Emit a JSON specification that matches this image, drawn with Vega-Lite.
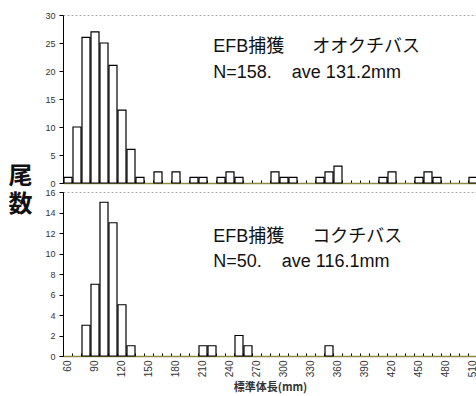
{
  "$schema": "https://vega.github.io/schema/vega-lite/v6.json",
  "padding": {"left": 7, "top": 10, "right": 0, "bottom": 0},
  "background": "white",
  "bounds": "flush",
  "spacing": 9,
  "config": {
    "view": {"stroke": "#aaaaaa", "strokeDash": [2, 2]},
    "font": "Liberation Sans, Noto Sans CJK JP",
    "axis": {"grid": false, "domainColor": "#000000", "tickColor": "#000000", "labelColor": "#333333", "labelFont": "Liberation Sans", "labelFontSize": 9, "labelOverlap": false}
  },
  "datasets": {
    "largemouth": [
      {"bin_start": 55, "bin_end": 65, "count": 1},
      {"bin_start": 65, "bin_end": 75, "count": 10},
      {"bin_start": 75, "bin_end": 85, "count": 26},
      {"bin_start": 85, "bin_end": 95, "count": 27},
      {"bin_start": 95, "bin_end": 105, "count": 25},
      {"bin_start": 105, "bin_end": 115, "count": 21},
      {"bin_start": 115, "bin_end": 125, "count": 13},
      {"bin_start": 125, "bin_end": 135, "count": 6},
      {"bin_start": 135, "bin_end": 145, "count": 1},
      {"bin_start": 155, "bin_end": 165, "count": 2},
      {"bin_start": 175, "bin_end": 185, "count": 2},
      {"bin_start": 195, "bin_end": 205, "count": 1},
      {"bin_start": 205, "bin_end": 215, "count": 1},
      {"bin_start": 225, "bin_end": 235, "count": 1},
      {"bin_start": 235, "bin_end": 245, "count": 2},
      {"bin_start": 245, "bin_end": 255, "count": 1},
      {"bin_start": 285, "bin_end": 295, "count": 2},
      {"bin_start": 295, "bin_end": 305, "count": 1},
      {"bin_start": 305, "bin_end": 315, "count": 1},
      {"bin_start": 335, "bin_end": 345, "count": 1},
      {"bin_start": 345, "bin_end": 355, "count": 2},
      {"bin_start": 355, "bin_end": 365, "count": 3},
      {"bin_start": 405, "bin_end": 415, "count": 1},
      {"bin_start": 415, "bin_end": 425, "count": 2},
      {"bin_start": 445, "bin_end": 455, "count": 1},
      {"bin_start": 455, "bin_end": 465, "count": 2},
      {"bin_start": 465, "bin_end": 475, "count": 1},
      {"bin_start": 505, "bin_end": 515, "count": 1}
    ],
    "smallmouth": [
      {"bin_start": 75, "bin_end": 85, "count": 3},
      {"bin_start": 85, "bin_end": 95, "count": 7},
      {"bin_start": 95, "bin_end": 105, "count": 15},
      {"bin_start": 105, "bin_end": 115, "count": 13},
      {"bin_start": 115, "bin_end": 125, "count": 5},
      {"bin_start": 125, "bin_end": 135, "count": 1},
      {"bin_start": 205, "bin_end": 215, "count": 1},
      {"bin_start": 215, "bin_end": 225, "count": 1},
      {"bin_start": 245, "bin_end": 255, "count": 2},
      {"bin_start": 255, "bin_end": 265, "count": 1},
      {"bin_start": 345, "bin_end": 355, "count": 1}
    ]
  },
  "vconcat": [
    {
      "width": 414,
      "height": 168,
      "layer": [
        {
          "data": {"name": "largemouth"},
          "mark": {"type": "bar", "fill": "white", "stroke": "black", "strokeWidth": 1.2},
          "encoding": {
            "x": {"field": "bin_start", "type": "quantitative", "bin": "binned",
              "scale": {"domain": [55, 515], "nice": false, "zero": false},
              "axis": {"values": [60,70,80,90,100,110,120,130,140,150,160,170,180,190,200,210,220,230,240,250,260,270,280,290,300,310,320,330,340,350,360,370,380,390,400,410,420,430,440,450,460,470,480,490,500,510],
                "labels": false, "title": null, "tickSize": -3, "tickOffset": -4.5, "domainColor": "#8a8a40", "domainWidth": 1.5}},
            "x2": {"field": "bin_end"},
            "y": {"field": "count", "type": "quantitative",
              "scale": {"domain": [0, 30], "nice": false},
              "axis": {"values": [0,5,10,15,20,25,30], "tickSize": 4, "labelPadding": 4,
                "title": "尾", "titleAngle": 0, "titleX": -43, "titleY": 168, "titleAlign": "center", "titleBaseline": "alphabetic",
                "titleFont": "Noto Sans CJK JP", "titleFontSize": 24, "titleFontWeight": "bold", "titleColor": "#111111"}}
          }
        },
        {
          "data": {"values": [{}]},
          "mark": {"type": "text", "text": ["EFB捕獲\u3000\u00a0\u00a0オオクチバス", "N=158.\u00a0\u00a0\u00a0\u00a0ave 131.2mm"],
            "align": "left", "baseline": "alphabetic", "fontSize": 18, "lineHeight": 26.5, "color": "#111111",
            "font": "Liberation Sans, Noto Sans CJK JP"},
          "encoding": {
            "x": {"datum": 222, "type": "quantitative",
              "axis": {"values": [60,70,80,90,100,110,120,130,140,150,160,170,180,190,200,210,220,230,240,250,260,270,280,290,300,310,320,330,340,350,360,370,380,390,400,410,420,430,440,450,460,470,480,490,500,510],
                "labels": false, "title": null, "tickSize": -3, "tickOffset": -4.5, "domainColor": "#8a8a40", "domainWidth": 1.5}},
            "y": {"datum": 23.45, "type": "quantitative",
              "axis": {"values": [0,5,10,15,20,25,30], "tickSize": 4, "labelPadding": 4,
                "title": "尾", "titleAngle": 0, "titleX": -43, "titleY": 168, "titleAlign": "center", "titleBaseline": "alphabetic",
                "titleFont": "Noto Sans CJK JP", "titleFontSize": 24, "titleFontWeight": "bold", "titleColor": "#111111"}}
          }
        }
      ]
    },
    {
      "width": 414,
      "height": 164,
      "layer": [
        {
          "data": {"name": "smallmouth"},
          "mark": {"type": "bar", "fill": "white", "stroke": "black", "strokeWidth": 1.2},
          "encoding": {
            "x": {"field": "bin_start", "type": "quantitative", "bin": "binned",
              "scale": {"domain": [55, 515], "nice": false, "zero": false},
              "axis": {"values": [60,70,80,90,100,110,120,130,140,150,160,170,180,190,200,210,220,230,240,250,260,270,280,290,300,310,320,330,340,350,360,370,380,390,400,410,420,430,440,450,460,470,480,490,500,510],
                "labelExpr": "datum.value % 30 == 0 ? datum.label : ''",
                "labelAngle": 270, "labelFontSize": 10, "labelPadding": 7, "labelOverlap": false, "labelFlush": false, "labelBound": false,
                "tickSize": -3, "tickOffset": -4.5, "labelOffset": 4.5, "domainColor": "#8a8a40", "domainWidth": 1.5,
                "title": "標準体長(mm)", "titleFont": "Noto Sans CJK JP", "titleFontSize": 11, "titleFontWeight": "bold", "titleColor": "#333333", "titlePadding": 5}},
            "x2": {"field": "bin_end"},
            "y": {"field": "count", "type": "quantitative",
              "scale": {"domain": [0, 16], "nice": false},
              "axis": {"values": [0,2,4,6,8,10,12,14,16], "tickSize": 4, "labelPadding": 4,
                "title": "数", "titleAngle": 0, "titleX": -43, "titleY": 19, "titleAlign": "center", "titleBaseline": "alphabetic",
                "titleFont": "Noto Sans CJK JP", "titleFontSize": 24, "titleFontWeight": "bold", "titleColor": "#111111"}}
          }
        },
        {
          "data": {"values": [{}]},
          "mark": {"type": "text", "text": ["EFB捕獲\u3000\u00a0\u00a0コクチバス", "N=50.\u00a0\u00a0\u00a0\u00a0ave 116.1mm"],
            "align": "left", "baseline": "alphabetic", "fontSize": 18, "lineHeight": 25, "color": "#111111",
            "font": "Liberation Sans, Noto Sans CJK JP"},
          "encoding": {
            "x": {"datum": 222, "type": "quantitative",
              "axis": {"values": [60,70,80,90,100,110,120,130,140,150,160,170,180,190,200,210,220,230,240,250,260,270,280,290,300,310,320,330,340,350,360,370,380,390,400,410,420,430,440,450,460,470,480,490,500,510],
                "labelExpr": "datum.value % 30 == 0 ? datum.label : ''",
                "labelAngle": 270, "labelFontSize": 10, "labelPadding": 7, "labelOverlap": false, "labelFlush": false, "labelBound": false,
                "tickSize": -3, "tickOffset": -4.5, "labelOffset": 4.5, "domainColor": "#8a8a40", "domainWidth": 1.5,
                "title": "標準体長(mm)", "titleFont": "Noto Sans CJK JP", "titleFontSize": 11, "titleFontWeight": "bold", "titleColor": "#333333", "titlePadding": 5}},
            "y": {"datum": 11.15, "type": "quantitative",
              "axis": {"values": [0,2,4,6,8,10,12,14,16], "tickSize": 4, "labelPadding": 4,
                "title": "数", "titleAngle": 0, "titleX": -43, "titleY": 19, "titleAlign": "center", "titleBaseline": "alphabetic",
                "titleFont": "Noto Sans CJK JP", "titleFontSize": 24, "titleFontWeight": "bold", "titleColor": "#111111"}}
          }
        }
      ]
    }
  ]
}
